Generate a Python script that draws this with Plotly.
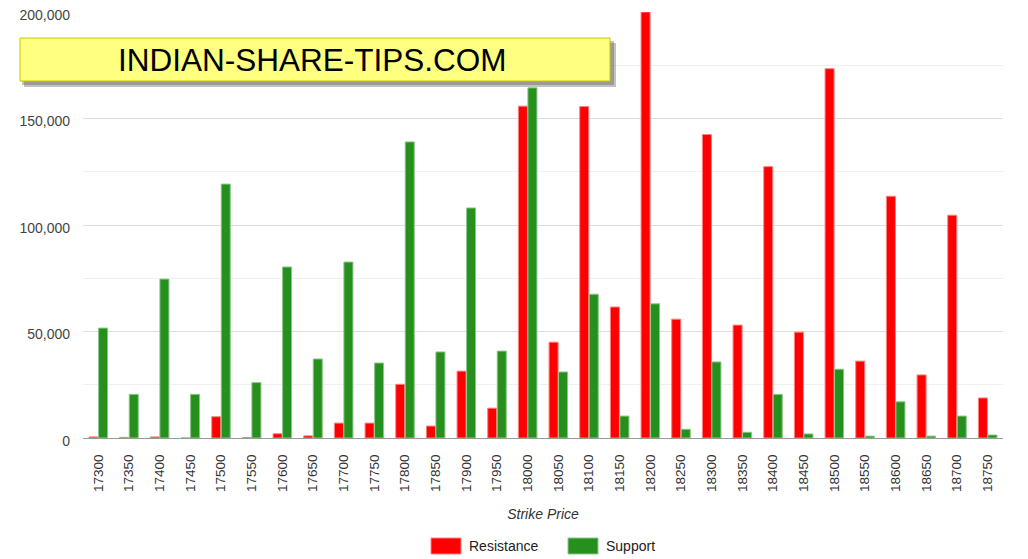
import plotly.graph_objects as go

strikes = [
    "17300", "17350", "17400", "17450", "17500", "17550", "17600", "17650",
    "17700", "17750", "17800", "17850", "17900", "17950", "18000", "18050",
    "18100", "18150", "18200", "18250", "18300", "18350", "18400", "18450",
    "18500", "18550", "18600", "18650", "18700", "18750",
]
resistance = [
    500, 300, 500, 0, 10000, 200, 2000, 1000,
    7000, 7000, 25200, 5600, 31400, 14000, 155800, 45000,
    155600, 61500, 200000, 55800, 142500, 53000, 127400, 49700,
    173400, 36100, 113500, 29600, 104600, 18800,
]
support = [
    51600, 20500, 74600, 20500, 119200, 26000, 80300, 37100,
    82600, 35200, 139000, 40400, 108000, 40800, 164400, 31000,
    67500, 10300, 63000, 4100, 35700, 2700, 20500, 1900,
    32300, 900, 17000, 900, 10300, 1400,
]
series_names = ["Resistance", "Support"]
series_colors = ["#ff0000", "#268f1e"]
edge_colors = ["#ff8080", "#8cc788"]

# the page body adds an 8px margin, so the figure starts at (8, 8) on screen
OFF = 8
W, H = 1028 - OFF, 559 - OFF
L, R, T, B = 83 - OFF, 25, 12 - OFF, 121
pw, ph = W - L - R, H - T - B


def px_x(x):
    return (x - OFF - L) / pw


def px_y(y):
    return (H - B - (y - OFF)) / ph


fig = go.Figure()
for name, vals, col, edge in zip(series_names, [resistance, support], series_colors, edge_colors):
    fig.add_trace(go.Bar(
        x=strikes, y=vals, name=name,
        marker=dict(color=col, line=dict(color=edge, width=1)),
    ))

# banner shadow + banner
fig.add_shape(type="rect", xref="paper", yref="paper",
              x0=px_x(24), x1=px_x(616), y0=px_y(87), y1=px_y(43),
              fillcolor="rgba(80,80,80,0.35)", line=dict(width=0), layer="above")
fig.add_shape(type="rect", xref="paper", yref="paper",
              x0=px_x(22), x1=px_x(614), y0=px_y(85), y1=px_y(41),
              fillcolor="rgba(80,80,80,0.35)", line=dict(width=0), layer="above")
fig.add_shape(type="rect", xref="paper", yref="paper",
              x0=px_x(20), x1=px_x(610), y0=px_y(81), y1=px_y(38),
              fillcolor="#ffff80", line=dict(color="#c8c800", width=1), layer="above")
fig.add_annotation(text="INDIAN-SHARE-TIPS.COM", xref="paper", yref="paper",
                   x=px_x(312), y=px_y(60), xanchor="center", yanchor="middle",
                   showarrow=False,
                   font=dict(family="Liberation Sans, Arial", size=31.5, color="#000"))

# legend drawn by hand (wide swatches like the original)
legend_x = [431, 568]
for name, col, edge, lx in zip(series_names, series_colors, edge_colors, legend_x):
    fig.add_shape(type="rect", xref="paper", yref="paper",
                  x0=px_x(lx), x1=px_x(lx + 30), y0=px_y(554), y1=px_y(538),
                  fillcolor=col, line=dict(color=edge, width=1))
    fig.add_annotation(text=name, xref="paper", yref="paper",
                       x=px_x(lx + 36), y=px_y(546), xanchor="left", yanchor="middle",
                       showarrow=False, font=dict(size=14, color="#222"))

fig.update_layout(
    width=W, height=H,
    margin=dict(l=L, r=R, t=T, b=B, autoexpand=False),
    plot_bgcolor="white", paper_bgcolor="white",
    barmode="group", bargap=0.38, bargroupgap=0.05,
    font=dict(family="Liberation Sans, Arial", size=13, color="#444"),
    showlegend=False,
)
fig.update_xaxes(
    automargin=False,
    tickangle=-90, tickfont=dict(size=13.5, color="#333"), ticklabelstandoff=10,
    title=dict(text="<i>Strike Price</i>", font=dict(size=14, color="#333"), standoff=18),
    showline=True, linecolor="#999", linewidth=1,
)
fig.update_yaxes(
    automargin=False,
    range=[0, 200000], dtick=50000, tickformat=",",
    gridcolor="#dddddd", zeroline=False,
    minor=dict(dtick=25000, showgrid=True, gridcolor="#f0f0f0"),
    tickfont=dict(size=14, color="#444"), ticklabelstandoff=12,
    ticklabeloverflow="allow", ticklabelshift=3,
)

fig.write_html("out.html")
